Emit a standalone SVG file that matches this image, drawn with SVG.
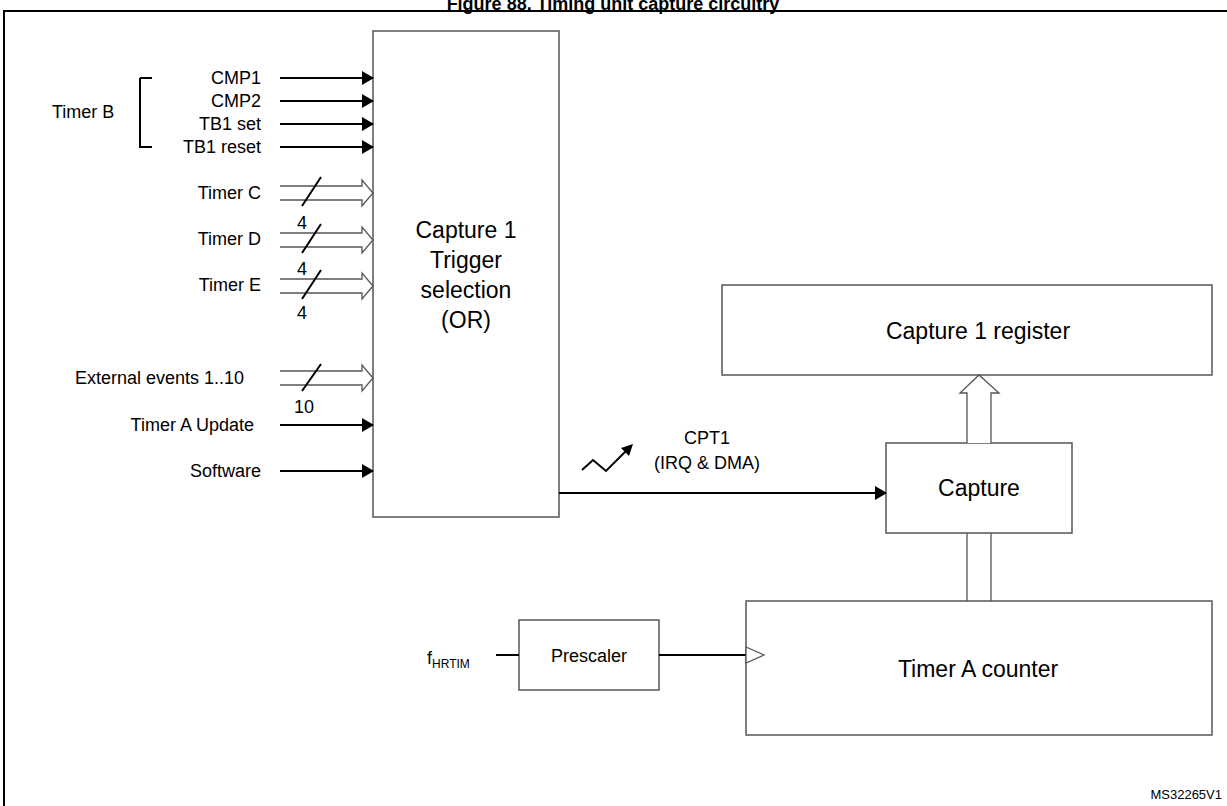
<svg xmlns="http://www.w3.org/2000/svg" width="1227" height="806" viewBox="0 0 1227 806">
<style>
text{font-family:"Liberation Sans",Arial,sans-serif;fill:#000}
.s{font-size:18px}
.b{font-size:23px}
.box{fill:#fff;stroke:#555;stroke-width:1.5}
.ln{stroke:#000;stroke-width:2;fill:none}
.hl{stroke:#555;stroke-width:1.3;fill:#fff}
</style>
<defs>
<marker id="a" markerWidth="12" markerHeight="14" refX="11" refY="7" orient="auto" markerUnits="userSpaceOnUse"><path d="M0,0L12,7L0,14z" fill="#000"/></marker>
</defs>
<rect width="1227" height="806" fill="#fff"/>
<text x="613" y="10" font-size="18" font-weight="bold" text-anchor="middle">Figure 88. Timing unit capture circuitry</text>
<rect x="4" y="11" width="1240" height="820" fill="none" stroke="#000" stroke-width="2"/>
<g id="trigger"><rect class="box" x="373" y="31" width="186" height="486"/>
<text class="b" text-anchor="middle" x="466" y="238">Capture 1</text>
<text class="b" text-anchor="middle" x="466" y="268">Trigger</text>
<text class="b" text-anchor="middle" x="466" y="298">selection</text>
<text class="b" text-anchor="middle" x="466" y="328">(OR)</text></g>
<g id="reg"><rect class="box" x="722" y="285" width="490" height="90"/><text class="b" text-anchor="middle" x="978" y="339">Capture 1 register</text></g>
<g id="capture"><rect class="box" x="886" y="443" width="186" height="90"/><text class="b" text-anchor="middle" x="979" y="496">Capture</text></g>
<g id="counter"><rect class="box" x="746" y="601" width="466" height="134"/><text class="b" text-anchor="middle" x="978" y="677">Timer A counter</text></g>
<g id="prescaler"><rect class="box" x="519" y="620" width="140" height="70"/><text class="s" text-anchor="middle" x="589" y="662">Prescaler</text></g>
<g id="labels">
<text class="s" text-anchor="end" x="261" y="84">CMP1</text>
<text class="s" text-anchor="end" x="261" y="107">CMP2</text>
<text class="s" text-anchor="end" x="261" y="130">TB1 set</text>
<text class="s" text-anchor="end" x="261" y="153">TB1 reset</text>
<text class="s" x="52" y="118">Timer B</text>
<text class="s" text-anchor="end" x="261" y="199">Timer C</text>
<text class="s" text-anchor="end" x="261" y="245">Timer D</text>
<text class="s" text-anchor="end" x="261" y="291">Timer E</text>
<text class="s" text-anchor="end" x="244" y="384">External events 1..10</text>
<text class="s" text-anchor="end" x="254" y="431">Timer A Update</text>
<text class="s" text-anchor="end" x="261" y="477">Software</text>
<text class="s" text-anchor="middle" x="302" y="229">4</text>
<text class="s" text-anchor="middle" x="302" y="275">4</text>
<text class="s" text-anchor="middle" x="302" y="319">4</text>
<text class="s" text-anchor="middle" x="304" y="413">10</text>
<text class="s" text-anchor="middle" x="707" y="444">CPT1</text>
<text class="s" text-anchor="middle" x="707" y="469">(IRQ &amp; DMA)</text>
<text class="s" x="427" y="664">f<tspan font-size="12" dy="4">HRTIM</tspan></text>
<text font-size="13" text-anchor="end" x="1222" y="799">MS32265V1</text>
</g>
<g id="connectors">
<path class="ln" d="M140,78H152M140,78V147H152" stroke-width="1.5"/>
<path class="ln" marker-end="url(#a)" d="M280,78H373"/>
<path class="ln" marker-end="url(#a)" d="M280,101H373"/>
<path class="ln" marker-end="url(#a)" d="M280,124H373"/>
<path class="ln" marker-end="url(#a)" d="M280,147H373"/>
<path class="ln" marker-end="url(#a)" d="M280,425H373"/>
<path class="ln" marker-end="url(#a)" d="M280,471H373"/>
<path class="hl" d="M280,186H362V180L373,193L362,206V200H280"/>
<path class="hl" d="M280,233H362V227L373,240L362,253V247H280"/>
<path class="hl" d="M280,279H362V273L373,286L362,299V293H280"/>
<path class="hl" d="M280,371H362V365L373,378L362,391V385H280"/>
<path class="ln" stroke-width="1.3" d="M302,206L321,177M302,253L321,224M302,299L321,270M302,391L321,364"/>
<path class="ln" marker-end="url(#a)" d="M559,493H886"/>
<path class="ln" stroke-width="1.5" d="M582,470L593,460L606,471L628,449"/>
<path d="M633,444L621,448L629,456z" fill="#000"/>
<path class="hl" d="M967,443V393H960L979,375L999,393H991V443"/>
<path class="hl" d="M967,601V533M991,533V601" fill="none"/>
<path class="ln" d="M496,655H519M659,655H746"/>
<path class="hl" d="M746,647L764,655L746,663z"/>
</g>
</svg>
